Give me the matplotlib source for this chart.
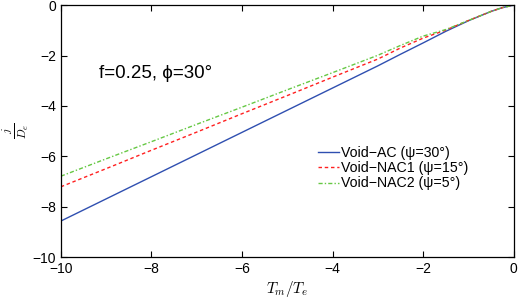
import matplotlib
matplotlib.use('Agg')
import matplotlib.pyplot as plt

plt.rcParams['font.family'] = ['Liberation Sans', 'DejaVu Sans']
plt.rcParams['mathtext.fontset'] = 'cm'

# curve values
x = [-10, -9, -8, -7, -6, -5, -4, -3, -2.5, -2, -1.5, -1, -0.5, -0.25, 0]
void_ac = [-8.57, -7.69, -6.81, -5.93, -5.05, -4.17, -3.29, -2.41, -1.95, -1.50, -1.04, -0.62, -0.25, -0.10, 0]
void_nac1 = [-7.21, -6.49, -5.76, -5.04, -4.31, -3.59, -2.86, -2.14, -1.70, -1.31, -0.99, -0.61, -0.25, -0.10, 0]
void_nac2 = [-6.79, -6.10, -5.42, -4.73, -4.05, -3.36, -2.68, -1.99, -1.60, -1.23, -0.97, -0.61, -0.25, -0.10, 0]

labels = ['Void\u2212AC (\u03c8=30\u00b0)', 'Void\u2212NAC1 (\u03c8=15\u00b0)', 'Void\u2212NAC2 (\u03c8=5\u00b0)']
xticks = [-10, -8, -6, -4, -2, 0]
yticks = [-10, -8, -6, -4, -2, 0]

fig = plt.figure(figsize=(5.2, 3.0), dpi=100)
ax = fig.add_axes([0.117, 0.143, 0.871, 0.84])

ax.plot(x, void_ac, color='#2f4fb0', lw=1.0, label=labels[0])
ax.plot(x, void_nac1, color='#ff2020', lw=1.0, ls=(0, (2.5, 2)), label=labels[1])
ax.plot(x, void_nac2, color='#66c844', lw=1.0, ls=(0, (3, 1.5, 1, 1.5)), label=labels[2])

ax.set_xlim(-10, 0)
ax.set_ylim(-10, 0)
ax.set_xticks(xticks)
ax.set_yticks(yticks)
ax.set_xticklabels([str(t).replace('-', '\u2212') for t in xticks])
ax.set_yticklabels([str(t).replace('-', '\u2212') for t in yticks])
ax.tick_params(direction='in', top=True, right=True, labelsize=10, length=4, width=0.8)
for s in ax.spines.values():
    s.set_linewidth(0.9)

ax.set_xlabel(r'$T_m/T_e$', fontsize=11, labelpad=2)
ax.set_ylabel(r'$\frac{j}{D_e}$', fontsize=12, rotation=90, labelpad=1)

ax.text(-9.15, -2.7, 'f=0.25, \u03d5=30\u00b0', fontsize=13.5, va='center', ha='left')

ax.legend(loc='upper left', bbox_to_anchor=(0.568, 0.44), frameon=False,
          fontsize=10.2, handlelength=1.5, handletextpad=0.1, labelspacing=0.08,
          borderpad=0, borderaxespad=0)

fig.savefig('out.png', dpi=100)
